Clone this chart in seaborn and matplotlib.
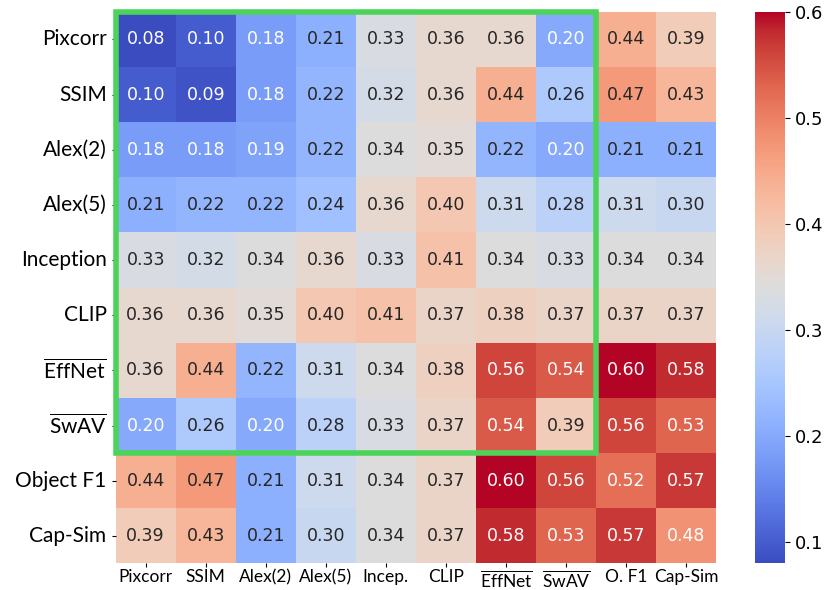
import numpy as np
import pandas as pd
import matplotlib
matplotlib.use('Agg')
import matplotlib.pyplot as plt
import seaborn as sns
from matplotlib.patches import Rectangle

# Metric names
row_labels = ['Pixcorr', 'SSIM', 'Alex(2)', 'Alex(5)', 'Inception', 'CLIP',
              r'$\overline{\mathrm{EffNet}}$', r'$\overline{\mathrm{SwAV}}$',
              'Object F1', 'Cap-Sim']
col_labels = ['Pixcorr', 'SSIM', 'Alex(2)', 'Alex(5)', 'Incep.', 'CLIP',
              r'$\overline{\mathrm{EffNet}}$', r'$\overline{\mathrm{SwAV}}$',
              'O. F1', 'Cap-Sim']

# Correlation values, one list per row
pixcorr = [0.08, 0.10, 0.18, 0.21, 0.33, 0.36, 0.36, 0.20, 0.44, 0.39]
ssim = [0.10, 0.09, 0.18, 0.22, 0.32, 0.36, 0.44, 0.26, 0.47, 0.43]
alex2 = [0.18, 0.18, 0.19, 0.22, 0.34, 0.35, 0.22, 0.20, 0.21, 0.21]
alex5 = [0.21, 0.22, 0.22, 0.24, 0.36, 0.40, 0.31, 0.28, 0.31, 0.30]
inception = [0.33, 0.32, 0.34, 0.36, 0.33, 0.41, 0.34, 0.33, 0.34, 0.34]
clip = [0.36, 0.36, 0.35, 0.40, 0.41, 0.37, 0.38, 0.37, 0.37, 0.37]
effnet = [0.36, 0.44, 0.22, 0.31, 0.34, 0.38, 0.56, 0.54, 0.60, 0.58]
swav = [0.20, 0.26, 0.20, 0.28, 0.33, 0.37, 0.54, 0.39, 0.56, 0.53]
object_f1 = [0.44, 0.47, 0.21, 0.31, 0.34, 0.37, 0.60, 0.56, 0.52, 0.57]
cap_sim = [0.39, 0.43, 0.21, 0.30, 0.34, 0.37, 0.58, 0.53, 0.57, 0.48]

df = pd.DataFrame([pixcorr, ssim, alex2, alex5, inception, clip,
                   effnet, swav, object_f1, cap_sim],
                  index=row_labels, columns=col_labels)

plt.rcParams['mathtext.fontset'] = 'custom'
plt.rcParams['mathtext.rm'] = 'Lato'

fig = plt.figure(figsize=(8.26, 5.90), dpi=100)
ax = fig.add_axes([0.140, 0.045, 0.727, 0.935])
cax = fig.add_axes([0.914, 0.045, 0.036, 0.935])

sns.heatmap(df, ax=ax, cbar_ax=cax, cmap='coolwarm', annot=True, fmt='.2f',
            annot_kws={'fontsize': 12.5, 'family': 'DejaVu Sans'})

# Green box around the first 8x8 block
ax.add_patch(Rectangle((0, 0), 8, 8, fill=False, edgecolor='#4cd45a',
                       linewidth=4, clip_on=False, zorder=5))

ax.set_xticklabels(col_labels, rotation=0, fontsize=12.5, family='Lato')
ax.set_yticklabels(row_labels, rotation=0, fontsize=15, family='Lato')
ax.tick_params(axis='x', pad=1, length=3)
ax.tick_params(axis='y', length=3)
cax.tick_params(labelsize=13)

plt.savefig('out.png', dpi=100)
